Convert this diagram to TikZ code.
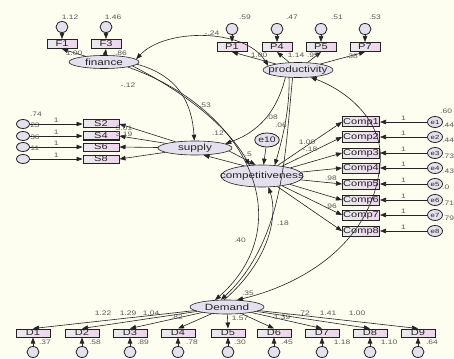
\documentclass[tikz,border=0pt]{standalone}
\usepackage{fontspec}
\usepackage{tikz}
\usetikzlibrary{arrows.meta, shapes.geometric}
\newfontfamily\amos[FakeStretch=1.3]{Liberation Sans}
\definecolor{paper}{RGB}{253,253,240}
\definecolor{lav}{RGB}{229,224,237}
\definecolor{pinkb}{RGB}{238,212,238}
\definecolor{ink}{RGB}{35,35,35}
\definecolor{numc}{RGB}{90,90,90}
\newcommand{\latname}[1]{\makebox[0pt]{#1}}

\begin{document}
\begin{tikzpicture}[x=1pt, y=-1pt,
  obs/.style={draw=ink, line width=1pt, left color=black!8, right color=pinkb, minimum width=36pt, minimum height=9pt, inner sep=0pt, text=ink, font=\amos\fontsize{8.5}{9}\selectfont},
  lat/.style={ellipse, draw=ink, line width=0.6pt, fill=lav, inner sep=0pt, text=ink, font=\amos\fontsize{9}{10}\selectfont},
  err/.style={ellipse, draw=ink, line width=0.8pt, fill=lav, minimum width=12pt, minimum height=10pt, inner sep=0pt, text=ink, font=\amos\fontsize{6}{6}\selectfont},
  est/.style={inner sep=0pt, text=numc, font=\amos\fontsize{6.5}{7}\selectfont},
  arr/.style={draw=ink, line width=0.6pt, -{Triangle[length=6pt, width=4.5pt]}},
  cov/.style={draw=ink, line width=0.6pt, {Triangle[length=6pt, width=4.5pt]}-{Triangle[length=6pt, width=4.5pt]}}]
\useasboundingbox (0,0) rectangle (454,358);
\fill[paper] (0,0) rectangle (454,358);
\clip (0,0) rectangle (454,358);

% latent variables
\node[lat, minimum width=70pt, minimum height=13pt] (fin) at (104,62) {\latname{finance}};
\node[lat, minimum width=70pt, minimum height=15pt] (prod) at (298,70) {\latname{productivity}};
\node[lat, minimum width=74pt, minimum height=14pt] (sup) at (195,148) {\latname{supply}};
\node[lat, minimum width=82pt, minimum height=22pt] (comp) at (262,176) {\latname{competitiveness}};
\node[lat, minimum width=74pt, minimum height=14pt] (dem) at (227,307) {\latname{Demand}};
\node[err, minimum width=24pt, minimum height=14pt, font=\amos\fontsize{8}{8}\selectfont] (e10) at (267,140) {e10};

% finance indicators
\foreach \n/\x in {1/62, 3/106} {
  \node[obs, minimum width=30pt] (f\n) at (\x,44) {F\n};
  \node[err, minimum height=11pt] (ef\n) at (\x,27) {};
  \draw[arr] (ef\n) -- (f\n);
  \draw[arr] (fin) -- (f\n.south);
}

% productivity indicators
\foreach \n/\x in {1/232, 4/277, 5/321, 7/365} {
  \node[obs, minimum width=30pt] (p\n) at (\x,47) {P\n};
  \node[err, minimum height=11pt] (ep\n) at (\x,29) {};
  \draw[arr] (ep\n) -- (p\n);
  \draw[arr] (prod) -- (p\n.south);
}

% supply indicators
\foreach \n/\y in {2/124, 4/136, 6/147, 8/159} {
  \node[obs, minimum height=8pt] (s\n) at (101,\y) {S\n};
  \node[err, minimum width=13pt, minimum height=9pt] (es\n) at (23,\y) {};
  \draw[arr] (es\n) -- node[est, above=1pt] (ls\n) {1} (s\n);
  \draw[arr] (sup) -- (s\n.east);
}

% competitiveness indicators
\foreach \i/\y in {1/122, 2/137, 3/153, 4/168, 5/184, 6/200, 7/215, 8/231} {
  \node[obs, minimum width=37pt, minimum height=10pt] (c\i) at (361,\y) {Comp\i};
  \node[err, minimum width=15pt, minimum height=11pt] (e\i) at (435,\y) {e\i};
  \draw[arr] (e\i) -- node[est, above=1pt] (lc\i) {1} (c\i);
  \draw[arr] (comp) -- (c\i.west);
}

% demand indicators
\foreach \i/\x in {1/33, 2/82, 3/130, 4/178, 5/228, 6/274, 7/322, 8/370, 9/418} {
  \node[obs, minimum width=34pt, minimum height=8pt] (d\i) at (\x,333) {D\i};
  \node[err, minimum height=11pt] (ed\i) at (\x,352) {};
  \draw[arr] (ed\i) -- (d\i);
  \draw[arr] (dem) -- (d\i.north);
}

% structural paths
\draw[cov] (fin.5) .. controls (165,28) and (245,28) .. (prod.172);
\draw[arr] (fin.-4) .. controls (180,76) and (192,105) .. (sup.95);
\draw[arr] (fin.-8) .. controls (190,95) and (230,130) .. (comp.139);
\draw[arr] (fin.-12) .. controls (250,110) and (300,225) .. (dem.150);
\draw[arr] (prod.-150) .. controls (275,120) and (250,135) .. (sup.8);
\draw[arr] (prod.-140) .. controls (290,110) and (282,140) .. (comp.40);
\draw[arr] (prod.-125) .. controls (285,150) and (285,240) .. (dem.130);
\draw[arr] (e10) -- (comp);
\draw[arr] (sup.-5) -- (comp.120);
\draw[arr] (comp.150) -- (sup.-40);
\draw[arr] (dem.110) .. controls (270,260) and (278,215) .. (comp.-60);
\draw[cov] (dem.35) .. controls (300,285) and (372,245) .. (380,165) .. controls (385,120) and (345,90) .. (prod.-30);

% estimates
\foreach \x/\y/\t [count=\i] in {70/17/1.12, 113/17/1.46, 245/17/.59, 292/17/.47, 337/17/.51, 375/17/.53}
  \node[est] (vt\i) at (\x,\y) {\t};
\foreach \x/\y/\t [count=\i] in {74/53/1.00, 121/53/.86, 259/55/1.00, 296/55/1.14, 313/55/.95, 352/56/.38}
  \node[est] (wt\i) at (\x,\y) {\t};
\foreach \x/\y/\t [count=\i] in {36/114/.74, 35/125/23, 35/137/36, 35/148/11, 124/128/3.01, 124/134/3.19}
  \node[est] (ws\i) at (\x,\y) {\t};
\foreach \x/\y/\t [count=\i] in {307/142/1.00, 310/149/-.18, 331/178/.98, 331/206/.96}
  \node[est] (wc\i) at (\x,\y) {\t};
\node[est, anchor=west] (vc0) at (440,111) {.60};
\foreach \y/\t [count=\i] in {125/.44, 140/.44, 156/.73, 171/.43, 187/.0, 203/.71, 218/.79}
  \node[est, anchor=west] (vc\i) at (442,\y) {\t};
\foreach \x/\y/\t [count=\i] in {103/313/1.22, 128/313/1.29, 151/313/1.04, 177/317/.82, 240/318/1.57, 282/317/1.39, 304/313/.72, 328/313/1.41, 357/313/1.00}
  \node[est] (wd\i) at (\x,\y) {\t};
\foreach \x/\y/\t [count=\i] in {45/342/.37, 95/342/.58, 143/342/.89, 192/342/.78, 240/342/.30, 287/342/.45, 342/342/1.18, 389/342/1.10, 432/342/.64}
  \node[est] (vd\i) at (\x,\y) {\t};
\foreach \x/\y/\t [count=\i] in {212/33/-.24, 128/85/-.12, 205/105/.53, 218/133/.12, 272/117/.08, 281/125/.06, 247/154/-.5, 240/240/.40, 283/223/.18, 248/293/.35}
  \node[est] (wp\i) at (\x,\y) {\t};
\end{tikzpicture}
\end{document}
